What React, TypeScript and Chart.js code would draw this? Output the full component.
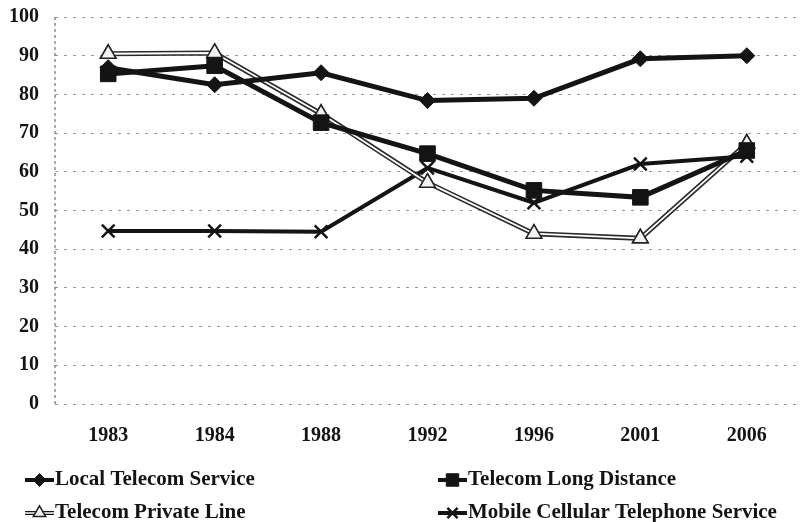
import React, { useEffect, useRef } from "react";
import { Chart, registerables } from "chart.js";
import { drawPoint } from "chart.js/helpers";

Chart.register(...registerables);

const years = ["1983", "1984", "1988", "1992", "1996", "2001", "2006"];
const localTelecom = [86.9, 82.5, 85.6, 78.4, 79.0, 89.2, 90.0];
const longDistance = [85.3, 87.4, 72.7, 64.7, 55.2, 53.4, 65.5];
const privateLine = [90.5, 90.7, 75.0, 57.2, 44.0, 42.8, 67.3];
const mobileCellular = [44.7, 44.7, 44.5, 61.0, 52.0, 62.0, 64.0];
const seriesNames = [
  "Local Telecom Service",
  "Telecom Long Distance",
  "Telecom Private Line",
  "Mobile Cellular Telephone Service",
];
const yTicks = [0, 10, 20, 30, 40, 50, 60, 70, 80, 90, 100];

const FONT = '"Liberation Serif", "Times New Roman", serif';
const INK = "#141414";
const SHIFT = 11;

const axisLinePlugin = {
  id: "axisLine",
  beforeDatasetsDraw(chart: any) {
    const { ctx, chartArea } = chart;
    ctx.save();
    ctx.strokeStyle = "#555";
    ctx.lineWidth = 1;
    ctx.setLineDash([3, 3]);
    ctx.beginPath();
    ctx.moveTo(chartArea.left, chartArea.top);
    ctx.lineTo(chartArea.left, chartArea.bottom);
    ctx.stroke();
    ctx.restore();
  },
};

const doubleLinePlugin = {
  id: "doubleLine",
  afterDatasetDraw(chart: any, args: any) {
    if (args.index !== 2) return;
    const meta = chart.getDatasetMeta(2);
    const { ctx } = chart;
    ctx.save();
    ctx.strokeStyle = "#ffffff";
    ctx.lineWidth = 1.8;
    ctx.lineJoin = "round";
    ctx.beginPath();
    meta.data.forEach((p: any, i: number) => {
      if (i === 0) ctx.moveTo(p.x, p.y);
      else ctx.lineTo(p.x, p.y);
    });
    ctx.stroke();
    ctx.restore();
    meta.data.forEach((p: any) => p.draw(ctx, chart.chartArea));
  },
};

const legendPlugin = {
  id: "customLegend",
  afterDraw(chart: any) {
    const { ctx } = chart;
    const spots = [
      { x: 25, y: 480 + SHIFT },
      { x: 438, y: 480 + SHIFT },
      { x: 25, y: 513 + SHIFT },
      { x: 438, y: 513 + SHIFT },
    ];
    chart.data.datasets.forEach((ds: any, i: number) => {
      const { x, y } = spots[i];
      ctx.save();
      ctx.strokeStyle = INK;
      ctx.lineWidth = 4;
      ctx.beginPath();
      ctx.moveTo(x, y);
      ctx.lineTo(x + 29, y);
      ctx.stroke();
      if (i === 2) {
        ctx.strokeStyle = "#fff";
        ctx.lineWidth = 1.5;
        ctx.beginPath();
        ctx.moveTo(x, y);
        ctx.lineTo(x + 29, y);
        ctx.stroke();
      }
      ctx.fillStyle = ds.pointBackgroundColor;
      ctx.strokeStyle = ds.pointBorderColor;
      ctx.lineWidth = ds.pointBorderWidth;
      drawPoint(ctx, { pointStyle: ds.pointStyle, radius: ds.pointRadius * 0.8, borderWidth: ds.pointBorderWidth, rotation: 0 }, x + 14.5, y);
      ctx.fillStyle = INK;
      ctx.font = `bold 21px ${FONT}`;
      ctx.textBaseline = "middle";
      ctx.textAlign = "left";
      ctx.fillText(ds.label, x + 30, y);
      ctx.restore();
    });
  },
};

export default function App() {
  const ref = useRef<HTMLCanvasElement | null>(null);

  useEffect(() => {
    if (!ref.current) return;
    const chart = new Chart(ref.current, {
      type: "line",
      data: {
        labels: years,
        datasets: [
          {
            label: seriesNames[0],
            data: localTelecom,
            borderColor: INK,
            borderWidth: 5,
            pointStyle: "rectRot",
            pointRadius: 8,
            pointBackgroundColor: INK,
            pointBorderColor: INK,
            pointBorderWidth: 1,
            tension: 0,
          },
          {
            label: seriesNames[1],
            data: longDistance,
            borderColor: INK,
            borderWidth: 5,
            pointStyle: "rect",
            pointRadius: 11,
            pointBackgroundColor: INK,
            pointBorderColor: INK,
            pointBorderWidth: 1,
            tension: 0,
          },
          {
            label: seriesNames[2],
            data: privateLine,
            borderColor: "#2a2a2a",
            borderWidth: 5,
            pointStyle: "triangle",
            pointRadius: 9,
            pointBackgroundColor: "#f2f2f2",
            pointBorderColor: "#222",
            pointBorderWidth: 1.5,
            tension: 0,
          },
          {
            label: seriesNames[3],
            data: mobileCellular,
            borderColor: INK,
            borderWidth: 4,
            pointStyle: "crossRot",
            pointRadius: 9,
            pointBackgroundColor: INK,
            pointBorderColor: INK,
            pointBorderWidth: 2.5,
            tension: 0,
          },
        ],
      },
      options: {
        animation: false,
        responsive: false,
        layout: { padding: { top: 5, left: 0, right: 0, bottom: 0 } },
        plugins: {
          legend: { display: false },
          tooltip: { enabled: false },
        },
        scales: {
          x: {
            offset: true,
            grid: { display: false, drawTicks: false },
            border: { display: false },
            ticks: {
              color: INK,
              font: { family: FONT, size: 20, weight: "bold" },
              padding: 20,
              maxRotation: 0,
              autoSkip: false,
            },
            afterFit(scale: any) {
              scale.height = 118;
            },
          },
          y: {
            min: 0,
            max: 100,
            afterBuildTicks(scale: any) {
              scale.ticks = yTicks.map((v) => ({ value: v }));
            },
            grid: { color: "#9a9a9a", lineWidth: 1, drawTicks: false },
            border: { display: false, dash: [3, 6] },
            ticks: {
              color: INK,
              font: { family: FONT, size: 20, weight: "bold" },
              padding: 16,
            },
            afterFit(scale: any) {
              scale.width = 55;
            },
          },
        },
      },
      plugins: [axisLinePlugin, doubleLinePlugin, legendPlugin],
    });
    return () => chart.destroy();
  }, []);

  return (
    <div style={{ position: "fixed", left: 0, top: -SHIFT, width: 812, height: 522 + SHIFT, background: "#fff" }}>
      <canvas ref={ref} width={812} height={522 + SHIFT} style={{ display: "block" }} />
    </div>
  );
}
